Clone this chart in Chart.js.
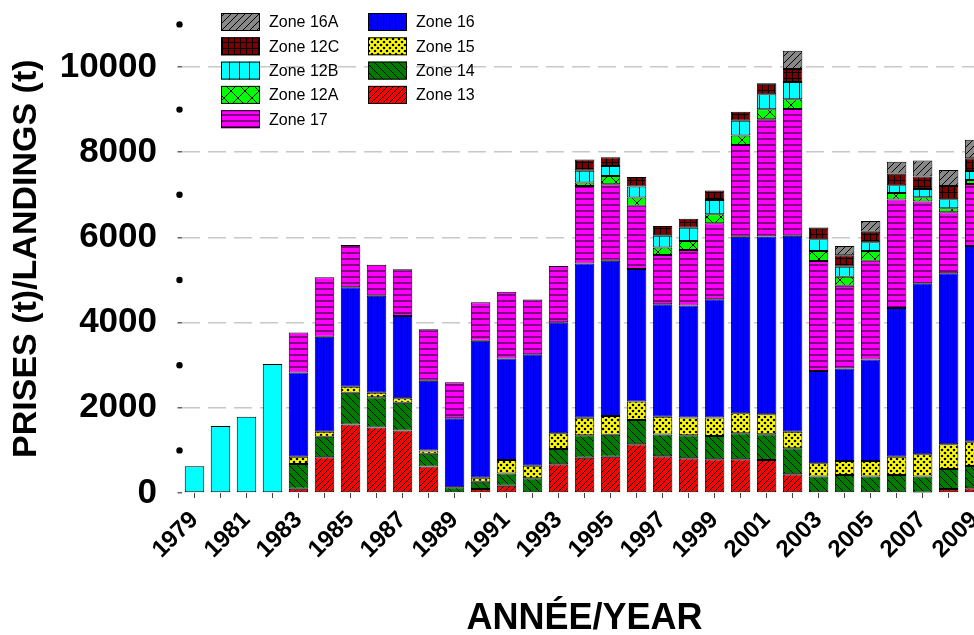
<!doctype html>
<html lang="fr">
<head>
<meta charset="utf-8">
<title>Prises par zone</title>
<script src="https://cdn.jsdelivr.net/npm/chart.js@4.4.1/dist/chart.umd.min.js"></script>
<style>
  html, body { margin: 0; padding: 0; background: #fff; overflow: hidden; }
  #cadre { width: 974px; height: 635px; overflow: hidden; }
</style>
</head>
<body>
<div id="cadre"><canvas id="graphique" width="1003" height="635"></canvas></div>
<script>
// annees
const annees = ['1979','1980','1981','1982','1983','1984','1985','1986','1987','1988',
  '1989','1990','1991','1992','1993','1994','1995','1996','1997','1998','1999',
  '2000','2001','2002','2003','2004','2005','2006','2007','2008','2009'];

// prises (t) par zone
const zone13  = [null,null,null,null,100,840,1610,1540,1470,620,15,95,170,20,675,830,850,1145,860,815,790,790,775,440,20,20,null,20,10,95,110];
const zone14  = [null,null,null,null,580,480,745,705,650,300,120,170,290,325,360,525,520,570,515,540,550,610,605,610,365,400,385,400,375,470,525];
const zone15  = [null,null,null,null,170,120,140,110,105,80,null,95,315,295,370,410,440,430,415,415,430,470,470,390,315,330,365,430,525,580,570];
const zone16  = [null,null,null,null,1980,2230,2335,2275,1930,1635,1620,3215,2385,2615,2605,3625,3640,3115,2640,2630,2780,4145,4170,4600,2165,2175,2385,3495,4015,4015,4595];
const zone17  = [null,null,null,null,940,1395,990,730,1095,1210,845,900,1565,1290,1320,1815,1795,1485,1155,1305,1785,2155,2755,2975,2580,1940,2315,2545,1915,1430,1455];
const zone12A = [null,null,null,null,null,null,null,null,null,null,null,null,null,null,null,85,195,190,180,210,210,220,235,230,235,210,230,155,105,95,95];
const zone12B = [630,1570,1790,3030,null,null,null,null,null,null,null,null,null,null,null,275,235,260,275,310,335,350,350,405,275,235,205,180,190,210,210];
const zone12C = [null,null,null,null,null,null,null,null,null,null,null,null,null,null,null,265,205,220,225,210,220,210,260,305,275,270,250,275,295,310,300];
const zone16A = [null,null,null,null,null,null,null,null,null,null,null,null,null,null,null,null,null,null,null,null,null,null,null,425,null,220,250,275,375,375,430];

// ordre de la legende (deux colonnes)
const legendeCol1 = ['Zone 16A','Zone 12C','Zone 12B','Zone 12A','Zone 17'];
const legendeCol2 = ['Zone 16','Zone 15','Zone 14','Zone 13'];

Chart.defaults.font.family = '"Liberation Sans", Arial, Helvetica, sans-serif';
Chart.defaults.color = '#000';

let canvas = document.getElementById('graphique');
let ctx = canvas.getContext('2d');

// motifs de remplissage
function motif(fond, t, dessin) {
  let c = document.createElement('canvas');
  c.width = t; c.height = t;
  let g = c.getContext('2d');
  g.fillStyle = fond;
  g.fillRect(0, 0, t, t);
  g.strokeStyle = '#000';
  g.fillStyle = '#000';
  g.lineWidth = 1;
  dessin(g, t);
  return ctx.createPattern(c, 'repeat');
}
function barreOblique(g, t) { // "/"
  g.beginPath();
  g.moveTo(0, t); g.lineTo(t, 0);
  g.moveTo(-1, 1); g.lineTo(1, -1);
  g.moveTo(t - 1, t + 1); g.lineTo(t + 1, t - 1);
  g.stroke();
}
function barreInverse(g, t) { // "\"
  g.beginPath();
  g.moveTo(0, 0); g.lineTo(t, t);
  g.moveTo(t - 1, -1); g.lineTo(t + 1, 1);
  g.moveTo(-1, t - 1); g.lineTo(1, t + 1);
  g.stroke();
}

const motifs = {
  'Zone 13': motif('#ff0000', 6, barreOblique),
  'Zone 14': motif('#007a00', 8, barreInverse),
  'Zone 15': motif('#ffff00', 6, (g, t) => {
    [[0,0],[t,0],[0,t],[t,t],[t/2,t/2]].forEach(p => {
      g.beginPath(); g.arc(p[0], p[1], 1.3, 0, Math.PI * 2); g.fill();
    });
  }),
  'Zone 16': motif('#0000ff', 6, (g, t) => g.fillRect(t - 1, 0, 1, t)),
  'Zone 17': motif('#ff00ff', 6, (g, t) => { g.fillStyle = '#800080'; g.fillRect(0, 0, t, 2); }),
  'Zone 12A': motif('#00ff00', 14, (g, t) => { barreOblique(g, t); barreInverse(g, t); }),
  'Zone 12B': motif('#00ffff', 10, (g, t) => g.fillRect(t - 1, 0, 1, t)),
  'Zone 12C': motif('#800000', 6, (g, t) => { g.fillRect(0, 0, t, 1); g.fillRect(0, 0, 1, t); }),
  'Zone 16A': motif('#888888', 7, barreOblique)
};

function serie(nom, valeurs) {
  return {
    label: nom,
    data: valeurs,
    backgroundColor: nom === 'Zone 12B'
      ? (c) => c.dataIndex < 4 ? '#00ffff' : motifs[nom]
      : motifs[nom],
    borderColor: '#000',
    borderWidth: 1,
    borderSkipped: false,
    barPercentage: 0.75,
    categoryPercentage: 1
  };
}

// legende dessinee a la main dans le coin
const legende = {
  id: 'legende',
  afterDraw(chart) {
    const c = chart.ctx;
    c.save();
    c.font = '16px "Liberation Sans", Arial, sans-serif';
    c.textBaseline = 'middle';
    const dessineCol = (noms, x) => {
      noms.forEach((nom, i) => {
        let y = 13 + i * 24.3;
        c.fillStyle = motifs[nom];
        c.fillRect(x, y, 39, 18);
        c.strokeStyle = '#000';
        c.lineWidth = 1;
        c.strokeRect(x + 0.5, y + 0.5, 38, 17);
        c.fillStyle = '#000';
        c.fillText(nom, x + 48, y + 10);
      });
    };
    dessineCol(legendeCol1, 221);
    dessineCol(legendeCol2, 368);
    c.restore();
  }
};

// points des graduations secondaires (1000, 3000, ...)
const points = {
  id: 'points',
  afterDraw(chart) {
    const c = chart.ctx;
    const y = chart.scales.y;
    c.save();
    c.fillStyle = '#000';
    y.ticks.forEach(t => {
      if (t.value % 2000 === 0) return;
      c.beginPath();
      c.arc(chart.chartArea.left - 2, y.getPixelForValue(t.value), 3.2, 0, Math.PI * 2);
      c.fill();
    });
    c.restore();
  }
};

const majeure = (v) => v % 2000 === 0;

var chart = new Chart(ctx, {
  type: 'bar',
  data: {
    labels: annees,
    datasets: [
      serie('Zone 13', zone13),
      serie('Zone 14', zone14),
      serie('Zone 15', zone15),
      serie('Zone 16', zone16),
      serie('Zone 17', zone17),
      serie('Zone 12A', zone12A),
      serie('Zone 12B', zone12B),
      serie('Zone 12C', zone12C),
      serie('Zone 16A', zone16A)
    ]
  },
  options: {
    responsive: false,
    animation: false,
    layout: { padding: { top: 24.4, right: 0, left: 0, bottom: 0 } },
    plugins: { legend: { display: false }, tooltip: { enabled: false } },
    scales: {
      x: {
        stacked: true,
        border: { display: false },
        grid: { display: true, drawOnChartArea: false, offset: false, tickLength: 5, color: '#444' },
        ticks: {
          autoSkip: false,
          minRotation: 45,
          maxRotation: 45,
          padding: 8,
          font: { size: 24, weight: 'bold' },
          callback: function (v, i) { return i % 2 === 0 ? this.getLabelForValue(v) : ''; }
        },
        title: {
          display: true,
          text: 'ANNÉE/YEAR',
          font: { size: 36, weight: 'bold' },
          padding: { top: 0, bottom: -6 }
        },
        afterFit: (s) => { s.height = 142; }
      },
      y: {
        stacked: true,
        min: 0,
        max: 11000,
        border: { display: false, dash: [18, 8] },
        grid: {
          color: (c) => c.tick && c.tick.value > 0 && majeure(c.tick.value) ? '#c8c8c8' : 'rgba(0,0,0,0)',
          tickColor: (c) => c.tick && majeure(c.tick.value) ? '#666' : 'rgba(0,0,0,0)',
          tickLength: 4,
          lineWidth: 1.5
        },
        ticks: {
          stepSize: 1000,
          maxTicksLimit: 20,
          padding: 20.5,
          font: { size: 35, weight: 'bold', lineHeight: 0.2 },
          callback: (v) => majeure(v) ? String(v) : ''
        },
        title: {
          display: true,
          text: 'PRISES (t)/LANDINGS (t)',
          font: { size: 34, weight: 'bold' },
          padding: { top: 6, bottom: 0 }
        },
        afterFit: (s) => { s.width = 181.5; }
      }
    }
  },
  plugins: [legende, points]
});
</script>
</body>
</html>
